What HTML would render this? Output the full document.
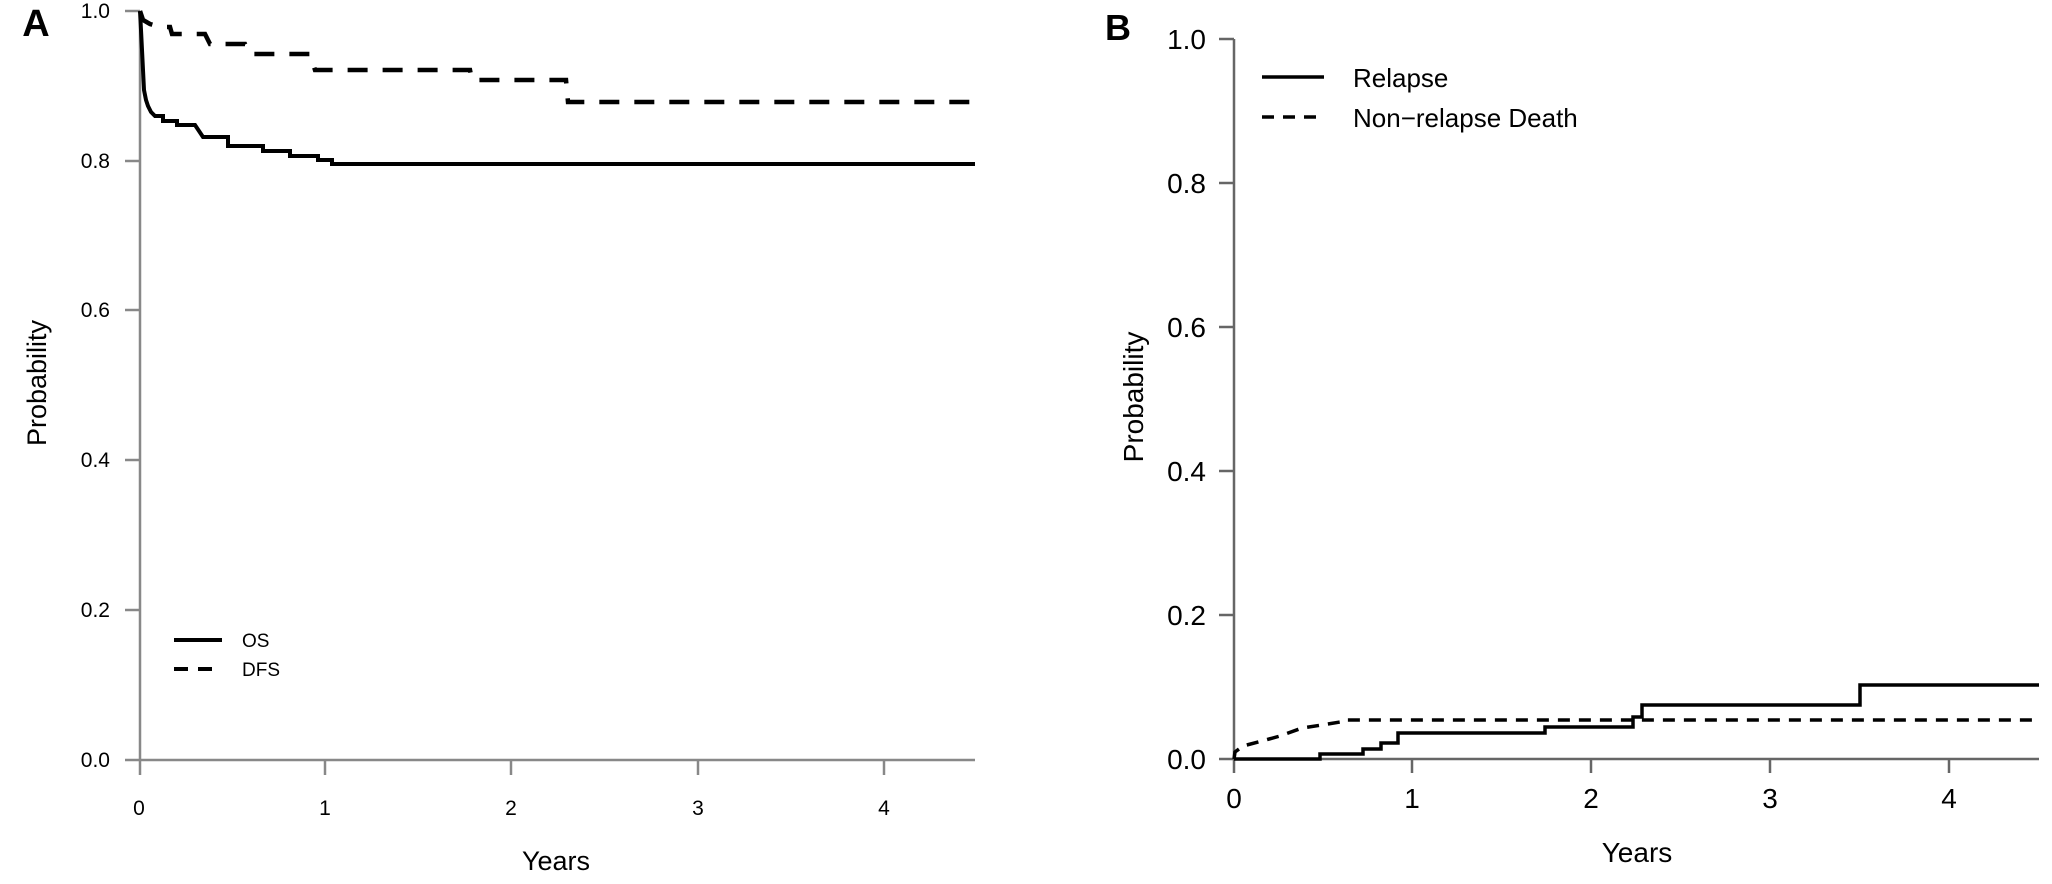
<!DOCTYPE html>
<html><head><meta charset="utf-8"><style>
html,body{margin:0;padding:0;background:#fff;}
svg{display:block;}
text{font-family:"Liberation Sans",Arial,sans-serif;fill:#000;}
</style></head><body>
<svg width="2052" height="884" viewBox="0 0 2052 884" xmlns="http://www.w3.org/2000/svg">
<!-- Panel A -->
<text x="36" y="36" font-size="38" font-weight="bold" text-anchor="middle">A</text>
<g stroke="#888" stroke-width="2.5" fill="none">
<line x1="140" y1="11" x2="140" y2="775"/>
<line x1="125" y1="760" x2="975" y2="760"/>
<line x1="125" y1="11" x2="140" y2="11"/>
<line x1="125" y1="161" x2="140" y2="161"/>
<line x1="125" y1="310" x2="140" y2="310"/>
<line x1="125" y1="460" x2="140" y2="460"/>
<line x1="125" y1="610" x2="140" y2="610"/>
<line x1="325" y1="760" x2="325" y2="775"/>
<line x1="511" y1="760" x2="511" y2="775"/>
<line x1="698" y1="760" x2="698" y2="775"/>
<line x1="884" y1="760" x2="884" y2="775"/>
</g>
<g font-size="21" text-anchor="end">
<text x="110" y="18">1.0</text>
<text x="110" y="168">0.8</text>
<text x="110" y="317">0.6</text>
<text x="110" y="467">0.4</text>
<text x="110" y="617">0.2</text>
<text x="110" y="767">0.0</text>
</g>
<g font-size="21" text-anchor="middle">
<text x="139" y="815">0</text>
<text x="325" y="815">1</text>
<text x="511" y="815">2</text>
<text x="698" y="815">3</text>
<text x="884" y="815">4</text>
</g>
<text x="556" y="870" font-size="27" text-anchor="middle">Years</text>
<text transform="translate(46,383) rotate(-90)" font-size="27" text-anchor="middle">Probability</text>
<polyline fill="none" stroke="#000" stroke-width="4" points="140,11 141,30 142,50 143,70 144,90 146,100 148,106 151,112 155,116 163,116 163,121 177,121 177,125 195,125 203,137 228,137 228,146 263,146 263,151 290,151 290,156 318,156 318,160 332,160 332,164 975,164"/>
<polyline fill="none" stroke="#000" stroke-width="4.5" stroke-dasharray="20,15" points="140,11 143,20 150,24 160,27 170,27 172,34 205,34 210,44 245,44 250,54 310,54 315,70 470,70 472,80 566,80 568,102 975,102"/>
<line x1="174" y1="640" x2="222" y2="640" stroke="#000" stroke-width="4"/>
<line x1="174" y1="669" x2="222" y2="669" stroke="#000" stroke-width="4" stroke-dasharray="14,10"/>
<text x="242" y="647" font-size="19">OS</text>
<text x="242" y="676" font-size="19">DFS</text>

<!-- Panel B -->
<text x="1118" y="40" font-size="36" font-weight="bold" text-anchor="middle">B</text>
<g stroke="#666" stroke-width="2.5" fill="none">
<line x1="1234" y1="39" x2="1234" y2="773"/>
<line x1="1219" y1="759" x2="2039" y2="759"/>
<line x1="1219" y1="39" x2="1234" y2="39"/>
<line x1="1219" y1="183" x2="1234" y2="183"/>
<line x1="1219" y1="327" x2="1234" y2="327"/>
<line x1="1219" y1="471" x2="1234" y2="471"/>
<line x1="1219" y1="615" x2="1234" y2="615"/>
<line x1="1412" y1="759" x2="1412" y2="773"/>
<line x1="1591" y1="759" x2="1591" y2="773"/>
<line x1="1770" y1="759" x2="1770" y2="773"/>
<line x1="1949" y1="759" x2="1949" y2="773"/>
</g>
<g font-size="28" text-anchor="end">
<text x="1206" y="49">1.0</text>
<text x="1206" y="193">0.8</text>
<text x="1206" y="337">0.6</text>
<text x="1206" y="481">0.4</text>
<text x="1206" y="625">0.2</text>
<text x="1206" y="769">0.0</text>
</g>
<g font-size="28" text-anchor="middle">
<text x="1234" y="808">0</text>
<text x="1412" y="808">1</text>
<text x="1591" y="808">2</text>
<text x="1770" y="808">3</text>
<text x="1949" y="808">4</text>
</g>
<text x="1637" y="862" font-size="28" text-anchor="middle">Years</text>
<text transform="translate(1143,397) rotate(-90)" font-size="28" text-anchor="middle">Probability</text>
<polyline fill="none" stroke="#000" stroke-width="3.5" points="1234,759 1320,759 1320,754 1363,754 1363,749 1381,749 1381,743 1398,743 1398,733 1545,733 1545,727 1633,727 1633,717 1642,717 1642,705 1860,705 1860,685 2039,685"/>
<polyline fill="none" stroke="#000" stroke-width="3.5" stroke-dasharray="12,9" points="1234,759 1235,752 1243,746 1262,741 1280,736 1302,728 1322,725 1340,722 1342,720 2039,720"/>
<line x1="1262" y1="77" x2="1324" y2="77" stroke="#000" stroke-width="3.5"/>
<line x1="1262" y1="117" x2="1324" y2="117" stroke="#000" stroke-width="3.5" stroke-dasharray="12,9"/>
<text x="1353" y="87" font-size="26">Relapse</text>
<text x="1353" y="127" font-size="26">Non−relapse Death</text>
</svg>
</body></html>
